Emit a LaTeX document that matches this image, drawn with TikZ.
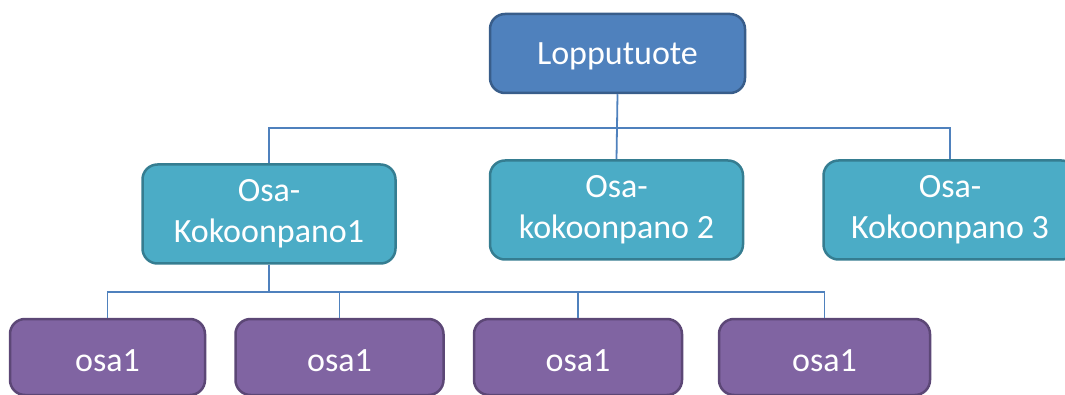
\documentclass[tikz,border=0pt]{standalone}
\usepackage{fontspec}
\setmainfont{Carlito}
\definecolor{topfill}{RGB}{79,129,189}
\definecolor{topline}{RGB}{56,93,138}
\definecolor{midfill}{RGB}{75,172,198}
\definecolor{midline}{RGB}{53,125,145}
\definecolor{lowfill}{RGB}{128,100,162}
\definecolor{lowline}{RGB}{92,71,118}
\definecolor{wire}{RGB}{79,129,189}
\tikzset{
  box/.style={rounded corners=15pt, line width=2.5pt, text=white, align=center,
    inner sep=0pt, font=\fontsize{34}{41}\selectfont},
  topbox/.style={box, fill=topfill, draw=topline, minimum width=255pt, minimum height=79pt,
    text height=23pt, text depth=0pt},
  midbox/.style={box, fill=midfill, draw=midline, minimum width=253pt, minimum height=99pt},
  lowbox/.style={box, fill=lowfill, draw=lowline, minimum width=208pt, minimum height=76pt,
    text height=29pt, text depth=0pt},
  wireline/.style={draw=wire, line width=1.8pt}
}
\begin{document}
\begin{tikzpicture}[x=1pt,y=-1pt]
\useasboundingbox (0,0) rectangle (1065,395);
\clip (0,0) rectangle (1065,395);
\coordinate (bus1) at (0,128);
\coordinate (bus2) at (0,292);
% nodes
\node[topbox] (lp) at (617.5,53.5) {Lopputuote};
\node[midbox] (k1) at (269,214) {Osa-\\Kokoonpano1};
\node[midbox] (k2) at (616.5,210) {Osa-\\kokoonpano 2};
\node[midbox] (k3) at (950,210) {Osa-\\Kokoonpano 3};
\node[lowbox, minimum width=195pt] (o1) at (107.5,357) {osa1};
\node[lowbox] (o2) at (339.5,357) {osa1};
\node[lowbox] (o3) at (578,357) {osa1};
\node[lowbox, minimum width=211pt] (o4) at (824.5,357) {osa1};
% connectors
\draw[wireline] (lp.south) -- (k2.north);
\draw[wireline] (lp.south |- bus1) -| (k1.north);
\draw[wireline] (lp.south |- bus1) -| (k3.north);
\draw[wireline] (k1.south) -- (k1.south |- bus2) -| (o1.north);
\draw[wireline] (k1.south |- bus2) -| (o2.north);
\draw[wireline] (k1.south |- bus2) -| (o3.north);
\draw[wireline] (k1.south |- bus2) -| (o4.north);
\end{tikzpicture}
\end{document}
